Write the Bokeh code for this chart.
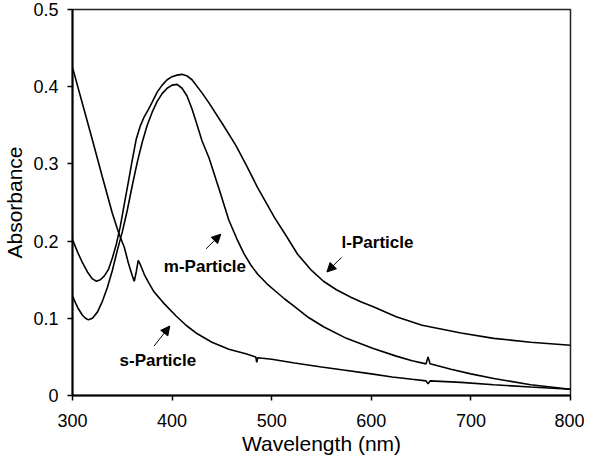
from bokeh.plotting import figure
from bokeh.models import Range1d, FixedTicker, Arrow, NormalHead, Label
from bokeh.embed import file_html
from bokeh.resources import INLINE

# ---- data ----
wl_s = [300, 310, 320, 330, 340, 345, 348, 352, 356, 360, 362, 364, 366, 368, 372, 377,
        382, 392, 404, 414, 424, 440, 457, 474, 484, 485, 486, 500, 523, 550, 572, 600,
        621, 641, 655, 657, 659, 690, 723, 760, 800]
abs_s = [0.425, 0.378, 0.331, 0.283, 0.236, 0.216, 0.205, 0.192, 0.172, 0.155, 0.148,
         0.160, 0.175, 0.170, 0.157, 0.145, 0.134, 0.119, 0.103, 0.091, 0.081, 0.069,
         0.060, 0.054, 0.050, 0.043, 0.049, 0.047, 0.042, 0.037, 0.033, 0.028, 0.024,
         0.021, 0.019, 0.015, 0.019, 0.017, 0.014, 0.011, 0.008]

wl_m = [300, 303, 306, 310, 313, 316, 320, 325, 330, 335, 340, 345, 350, 355, 360, 365,
        370, 375, 380, 385, 390, 395, 400, 405, 410, 415, 420, 424, 430, 437, 447, 457,
        465, 472, 479, 486, 495, 503, 513, 523, 537, 552, 575, 602, 625, 641, 655, 657,
        659, 680, 700, 723, 760, 800]
abs_m = [0.129, 0.120, 0.112, 0.104, 0.100, 0.098, 0.100, 0.108, 0.122, 0.140, 0.162,
         0.188, 0.212, 0.240, 0.272, 0.302, 0.328, 0.350, 0.367, 0.381, 0.391, 0.398,
         0.402, 0.403, 0.398, 0.388, 0.371, 0.355, 0.330, 0.308, 0.268, 0.227, 0.203,
         0.184, 0.169, 0.157, 0.145, 0.136, 0.125, 0.115, 0.101, 0.089, 0.074, 0.061,
         0.051, 0.045, 0.041, 0.050, 0.041, 0.034, 0.028, 0.022, 0.014, 0.008]

wl_l = [300, 305, 310, 315, 320, 324, 328, 332, 336, 340, 344, 348, 352, 356, 360, 364,
        368, 372, 376, 380, 385, 390, 395, 400, 405, 410, 415, 420, 430, 437, 450, 464,
        475, 486, 503, 515, 526, 540, 552, 565, 580, 590, 602, 625, 651, 690, 723, 760, 800]
abs_l = [0.202, 0.186, 0.172, 0.160, 0.151, 0.148, 0.150, 0.155, 0.163, 0.178, 0.196,
         0.219, 0.248, 0.276, 0.305, 0.332, 0.349, 0.361, 0.370, 0.380, 0.393, 0.402,
         0.409, 0.413, 0.415, 0.416, 0.414, 0.409, 0.392, 0.379, 0.353, 0.324, 0.297,
         0.269, 0.230, 0.206, 0.183, 0.162, 0.148, 0.137, 0.127, 0.121, 0.115, 0.102,
         0.091, 0.081, 0.074, 0.069, 0.065]

x_ticks = [300, 400, 500, 600, 700, 800]
y_ticks = [0, 0.1, 0.2, 0.3, 0.4, 0.5]
y_tick_labels = ["0", "0.1", "0.2", "0.3", "0.4", "0.5"]
series_names = ["s-Particle", "m-Particle", "l-Particle"]

FONT = "Liberation Sans"

p = figure(width=584, height=460, output_backend="svg", toolbar_location=None,
           x_range=Range1d(300, 800), y_range=Range1d(0, 0.5),
           min_border_left=66, min_border_right=14, min_border_top=9,
           min_border_bottom=65)
p.grid.visible = False
p.background_fill_color = "white"
p.border_fill_color = "white"
p.outline_line_color = "#222222"
p.outline_line_width = 1.5

for ax in (p.xaxis[0], p.yaxis[0]):
    ax.axis_line_color = "black"
    ax.axis_line_width = 2
    ax.major_tick_line_color = "black"
    ax.major_tick_line_width = 1.5
    ax.major_tick_out = 5
    ax.major_tick_in = 0
    ax.minor_tick_line_color = None
    ax.major_label_text_font = FONT
    ax.major_label_text_font_size = "18px"
    ax.major_label_text_color = "black"
    ax.axis_label_text_font = FONT
    ax.axis_label_text_font_size = "21px"
    ax.axis_label_text_font_style = "normal"
    ax.axis_label_text_color = "black"

p.xaxis.ticker = FixedTicker(ticks=x_ticks)
p.yaxis.ticker = FixedTicker(ticks=y_ticks)
p.yaxis.major_label_overrides = {t: s for t, s in zip(y_ticks, y_tick_labels)}
p.xaxis.axis_label = "Wavelength (nm)"
p.yaxis.axis_label = "Absorbance"
p.yaxis.major_label_standoff = 9
p.yaxis.axis_label_standoff = 4
p.xaxis.major_label_standoff = 13
p.xaxis.axis_label_standoff = 2

for xs, ys in ((wl_s, abs_s), (wl_m, abs_m), (wl_l, abs_l)):
    p.line(xs, ys, line_color="black", line_width=1.6)

# labels and arrows
label_pos = [(347.3, 0.045), (391.7, 0.1675), (570.2, 0.198)]
for name, (lx, ly) in zip(series_names, label_pos):
    p.add_layout(Label(x=lx, y=ly, text=name, text_font=FONT, text_font_size="17px",
                       text_font_style="bold", text_color="black",
                       text_baseline="middle", text_align="left"))

arrows = [((381.9, 0.064), (397.7, 0.090)),
          ((434.1, 0.190), (448.9, 0.209)),
          ((570.2, 0.179), (555.4, 0.160))]
for (x0, y0), (x1, y1) in arrows:
    p.add_layout(Arrow(end=NormalHead(size=9, fill_color="black", line_color="black"),
                       x_start=x0, y_start=y0, x_end=x1, y_end=y1,
                       line_color="black", line_width=1))

open("out.html", "w").write(file_html(p, INLINE))
